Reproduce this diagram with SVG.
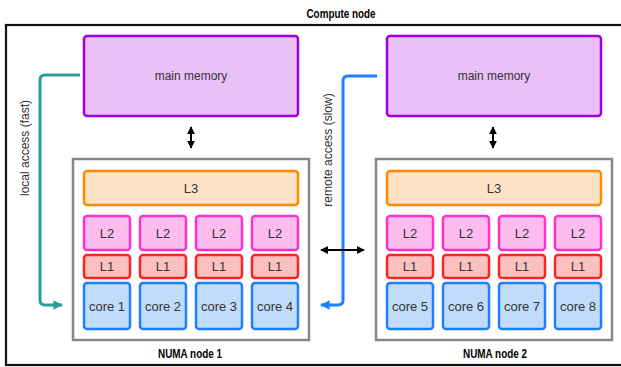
<svg xmlns="http://www.w3.org/2000/svg" width="621" height="367" viewBox="0 0 621 367">
<defs>
<style>
text{font-family:"Liberation Sans",Arial,sans-serif;fill:#333}
.lbl{font-size:12px;text-anchor:middle;dominant-baseline:central}
.box{font-size:13px;text-anchor:middle;dominant-baseline:central}
.bold{font-weight:bold;fill:#000;text-anchor:middle}
.mem{fill:#eac0f8;stroke:#a000e0;stroke-width:2.5}
.numa{fill:#fff;stroke:#888;stroke-width:2.5}
.l3{fill:#fde2c6;stroke:#ff8c00;stroke-width:2.5}
.l2{fill:#fcbdee;stroke:#ff33cc;stroke-width:2.5}
.l1{fill:#fbc1c1;stroke:#ff2424;stroke-width:2.5}
.core{fill:#c1dcfb;stroke:#1e80ff;stroke-width:2.5}
.dbl{stroke:#000;stroke-width:2;fill:none;marker-start:url(#bk);marker-end:url(#bk)}
</style>
<marker id="bk" viewBox="0 0 10 10" refX="9" refY="5" markerWidth="4" markerHeight="4" orient="auto-start-reverse" markerUnits="strokeWidth"><path d="M0,0 L10,5 L0,10 Z" fill="#000"/></marker>
<marker id="teal" viewBox="0 0 10 10" refX="9" refY="5" markerWidth="3.2" markerHeight="3.2" orient="auto" markerUnits="strokeWidth"><path d="M0,0 L10,5 L0,10 Z" fill="#2aa198"/></marker>
<marker id="blue" viewBox="0 0 10 10" refX="9" refY="5" markerWidth="3.2" markerHeight="3.2" orient="auto" markerUnits="strokeWidth"><path d="M0,0 L10,5 L0,10 Z" fill="#1e80ff"/></marker>
</defs>
<rect width="621" height="367" fill="#fff"/>
<g id="compute-node">
<rect x="6" y="25" width="640" height="340" fill="none" stroke="#111" stroke-width="2.2"/>
<text class="bold" x="341" y="18" font-size="13" textLength="69" lengthAdjust="spacingAndGlyphs">Compute node</text>
</g>
<g id="mem1"><rect class="mem" x="84" y="36" width="214" height="80" rx="3"/><text class="lbl" x="191" y="76">main memory</text></g>
<g id="mem2"><rect class="mem" x="387" y="36" width="214" height="80" rx="3"/><text class="lbl" x="494" y="76">main memory</text></g>
<g id="numa1">
<rect class="numa" x="73" y="159" width="236" height="181"/>
<text class="bold" x="190" y="358" font-size="13" textLength="64" lengthAdjust="spacingAndGlyphs">NUMA node 1</text>
<rect class="l3" x="84" y="171" width="214" height="34" rx="3"/><text class="box" x="191" y="188">L3</text>
<g id="n1c1"><rect class="l2" x="84" y="216" width="46" height="34" rx="3"/><text class="box" x="107" y="233">L2</text><rect class="l1" x="84" y="255" width="46" height="23" rx="3"/><text class="box" x="107" y="266.5">L1</text><rect class="core" x="84" y="283" width="46" height="46" rx="3"/><text class="box" x="107" y="306">core 1</text></g>
<g id="n1c2"><rect class="l2" x="140" y="216" width="46" height="34" rx="3"/><text class="box" x="163" y="233">L2</text><rect class="l1" x="140" y="255" width="46" height="23" rx="3"/><text class="box" x="163" y="266.5">L1</text><rect class="core" x="140" y="283" width="46" height="46" rx="3"/><text class="box" x="163" y="306">core 2</text></g>
<g id="n1c3"><rect class="l2" x="196" y="216" width="46" height="34" rx="3"/><text class="box" x="219" y="233">L2</text><rect class="l1" x="196" y="255" width="46" height="23" rx="3"/><text class="box" x="219" y="266.5">L1</text><rect class="core" x="196" y="283" width="46" height="46" rx="3"/><text class="box" x="219" y="306">core 3</text></g>
<g id="n1c4"><rect class="l2" x="252" y="216" width="46" height="34" rx="3"/><text class="box" x="275" y="233">L2</text><rect class="l1" x="252" y="255" width="46" height="23" rx="3"/><text class="box" x="275" y="266.5">L1</text><rect class="core" x="252" y="283" width="46" height="46" rx="3"/><text class="box" x="275" y="306">core 4</text></g>
</g>
<g id="numa2">
<rect class="numa" x="376" y="159" width="236" height="181"/>
<text class="bold" x="495" y="358" font-size="13" textLength="64" lengthAdjust="spacingAndGlyphs">NUMA node 2</text>
<rect class="l3" x="387" y="171" width="214" height="34" rx="3"/><text class="box" x="494" y="188">L3</text>
<g id="n2c1"><rect class="l2" x="387" y="216" width="46" height="34" rx="3"/><text class="box" x="410" y="233">L2</text><rect class="l1" x="387" y="255" width="46" height="23" rx="3"/><text class="box" x="410" y="266.5">L1</text><rect class="core" x="387" y="283" width="46" height="46" rx="3"/><text class="box" x="410" y="306">core 5</text></g>
<g id="n2c2"><rect class="l2" x="443" y="216" width="46" height="34" rx="3"/><text class="box" x="466" y="233">L2</text><rect class="l1" x="443" y="255" width="46" height="23" rx="3"/><text class="box" x="466" y="266.5">L1</text><rect class="core" x="443" y="283" width="46" height="46" rx="3"/><text class="box" x="466" y="306">core 6</text></g>
<g id="n2c3"><rect class="l2" x="499" y="216" width="46" height="34" rx="3"/><text class="box" x="522" y="233">L2</text><rect class="l1" x="499" y="255" width="46" height="23" rx="3"/><text class="box" x="522" y="266.5">L1</text><rect class="core" x="499" y="283" width="46" height="46" rx="3"/><text class="box" x="522" y="306">core 7</text></g>
<g id="n2c4"><rect class="l2" x="555" y="216" width="46" height="34" rx="3"/><text class="box" x="578" y="233">L2</text><rect class="l1" x="555" y="255" width="46" height="23" rx="3"/><text class="box" x="578" y="266.5">L1</text><rect class="core" x="555" y="283" width="46" height="46" rx="3"/><text class="box" x="578" y="306">core 8</text></g>
</g>
<g id="connectors">
<line class="dbl" x1="191" y1="127" x2="191" y2="148"/>
<line class="dbl" x1="493" y1="127" x2="493" y2="148"/>
<path d="M80,75 H45 Q40,75 40,80 V300 Q40,305 45,305 H62" fill="none" stroke="#2aa198" stroke-width="3" marker-end="url(#teal)"/>
<path d="M377,76 H348 Q343,76 343,81 V300 Q343,305 338,305 H321" fill="none" stroke="#1e80ff" stroke-width="3" marker-end="url(#blue)"/>
<line class="dbl" x1="321" y1="250" x2="364" y2="250"/>
<text class="lbl" transform="translate(25,148) rotate(-90)">local access (fast)</text>
<text class="lbl" transform="translate(328,150) rotate(-90)">remote access (slow)</text>
</g>
</svg>
